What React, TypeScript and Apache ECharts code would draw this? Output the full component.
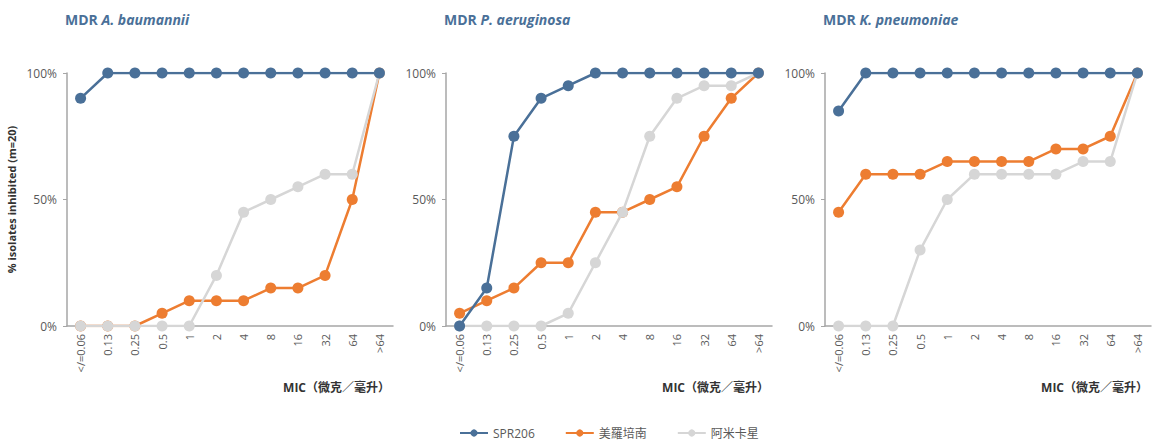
import React, { useEffect, useRef } from "react";
import * as echarts from "echarts";

const categories = ["</=0.06", "0.13", "0.25", "0.5", "1", "2", "4", "8", "16", "32", "64", ">64"];
const seriesNames = ["SPR206", "美羅培南", "阿米卡星"];
const panelTitles = [
  ["MDR ", "A. baumannii"],
  ["MDR ", "P. aeruginosa"],
  ["MDR ", "K. pneumoniae"],
];

const abSPR206 = [90, 100, 100, 100, 100, 100, 100, 100, 100, 100, 100, 100];
const abMeropenem = [0, 0, 0, 5, 10, 10, 10, 15, 15, 20, 50, 100];
const abAmikacin = [0, 0, 0, 0, 0, 20, 45, 50, 55, 60, 60, 100];

const paSPR206 = [0, 15, 75, 90, 95, 100, 100, 100, 100, 100, 100, 100];
const paMeropenem = [5, 10, 15, 25, 25, 45, 45, 50, 55, 75, 90, 100];
const paAmikacin = [0, 0, 0, 0, 5, 25, 45, 75, 90, 95, 95, 100];

const kpSPR206 = [85, 100, 100, 100, 100, 100, 100, 100, 100, 100, 100, 100];
const kpMeropenem = [45, 60, 60, 60, 65, 65, 65, 65, 70, 70, 75, 100];
const kpAmikacin = [0, 0, 0, 30, 50, 60, 60, 60, 60, 65, 65, 100];

const yTicks = [0, 50, 100];
const yAxisName = "% isolates inhibited (m=20)";
const xAxisName = "MIC（微克／毫升）";

const panels = [
  [abSPR206, abMeropenem, abAmikacin],
  [paSPR206, paMeropenem, paAmikacin],
  [kpSPR206, kpMeropenem, kpAmikacin],
];

const colors = ["#4a7098", "#ed7d31", "#d6d6d6"];
const zs = [4, 2, 3];
const gridLefts = [67, 446, 825];
const gridWidth = 326;
const FONT = "'Open Sans', 'Noto Sans', 'Noto Sans CJK SC', sans-serif";

export default function App() {
  const ref = useRef<HTMLDivElement>(null);
  useEffect(() => {
    if (!ref.current) return;
    const chart = echarts.init(ref.current, undefined, { renderer: "svg" });
    const grids = gridLefts.map((l) => ({ left: l, top: 73, width: gridWidth, height: 253 }));
    const xAxes = gridLefts.map((_, i) => ({
      type: "category",
      gridIndex: i,
      data: categories,
      boundaryGap: true,
      axisLine: { lineStyle: { color: "#a6a6a6", width: 1.5 } },
      axisTick: { show: false },
      axisLabel: { rotate: 90, interval: 0, color: "#595959", fontSize: 11, fontFamily: FONT, margin: 8 },
    }));
    const yAxes = gridLefts.map((_, i) => ({
      type: "value",
      gridIndex: i,
      min: 0,
      max: 100,
      interval: 50,
      name: i === 0 ? yAxisName : "",
      nameLocation: "middle",
      nameGap: 50,
      nameTextStyle: { fontSize: 11, fontWeight: "bold", color: "#333", fontFamily: FONT },
      axisLine: { show: true, lineStyle: { color: "#a6a6a6", width: 1.5 } },
      axisTick: { show: true, length: 4, lineStyle: { color: "#a6a6a6" } },
      splitLine: { show: false },
      axisLabel: {
        color: "#595959",
        fontSize: 12,
        fontFamily: FONT,
        margin: 10,
        formatter: (v: number) => (yTicks.includes(v) ? v + "%" : ""),
      },
    }));
    const series: any[] = [];
    panels.forEach((p, i) => {
      p.forEach((vals, s) => {
        series.push({
          type: "line",
          name: seriesNames[s],
          xAxisIndex: i,
          yAxisIndex: i,
          data: vals,
          symbol: "circle",
          symbolSize: 11,
          z: zs[s],
          lineStyle: { color: colors[s], width: 2.5 },
          itemStyle: { color: colors[s] },
        });
      });
    });
    const titles: any[] = [];
    panelTitles.forEach((t, i) => {
      titles.push({
        text: `{n|${t[0]}}{i|${t[1]}}`,
        left: gridLefts[i] - 7,
        top: 7,
        textStyle: {
          rich: {
            n: { fontSize: 14, fontWeight: "bold", color: "#4a7098", fontFamily: FONT },
            i: { fontSize: 14, fontWeight: "bold", fontStyle: "italic", color: "#4a7098", fontFamily: FONT },
          },
        },
      });
      titles.push({
        text: xAxisName,
        right: 1157 - (gridLefts[i] + gridWidth) - 2,
        top: 376,
        textStyle: { fontSize: 12, fontWeight: "bold", color: "#333", fontFamily: FONT },
      });
    });
    chart.setOption({
      animation: false,
      backgroundColor: "#ffffff",
      title: titles,
      grid: grids,
      xAxis: xAxes,
      yAxis: yAxes,
      legend: {
        data: seriesNames,
        left: 454,
        top: 422,
        itemWidth: 28,
        itemHeight: 9,
        itemGap: 30,
        textStyle: { fontSize: 12, color: "#595959", fontFamily: FONT },
      },
      series,
    });
    return () => chart.dispose();
  }, []);
  return (
    <div
      ref={ref}
      style={{ position: "absolute", left: 0, top: 0, width: 1157, height: 441 }}
    />
  );
}
